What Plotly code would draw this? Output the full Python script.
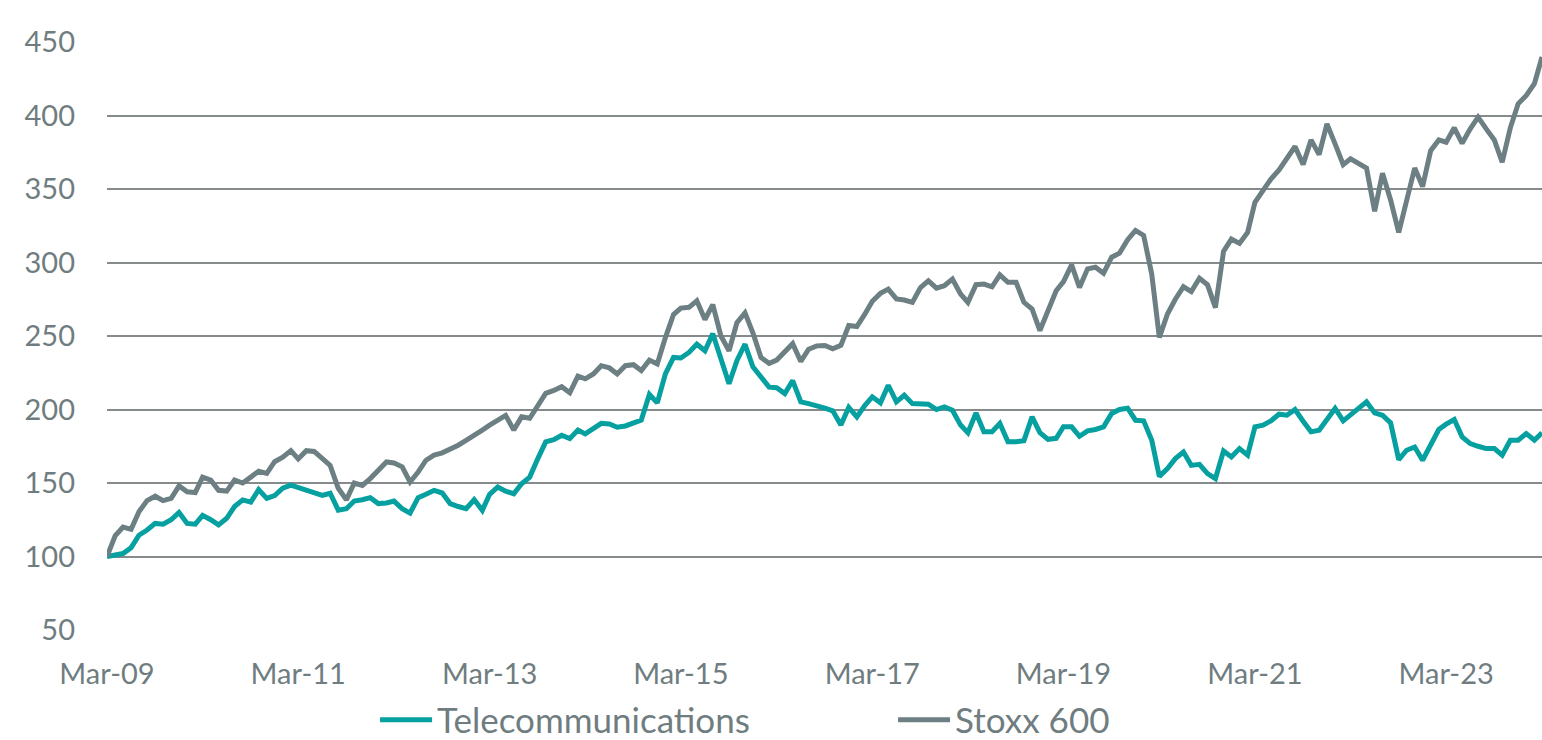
import pandas as pd
import plotly.graph_objects as go

# Monthly index levels, rebased to 100 at March 2009
months = pd.date_range("2009-03-01", periods=181, freq="MS")

telecommunications = [
    100, 101, 102, 106, 114.5, 118, 122.5, 122, 125, 130,
    122.5, 122, 128, 125, 121.5, 126, 134, 138.5, 137, 145.5,
    139.5, 141.5, 146.5, 148.5, 147, 145.5, 144, 141.5, 143, 131.5,
    132.5, 137.7, 138.6, 140, 136, 136.4, 137.7, 132.5, 129.5, 140,
    142.3, 145, 143.2, 136, 134, 132.5, 138.6, 131.4, 142.3, 147.3,
    144.5, 142.7, 149.5, 154, 166.6, 178, 179.5, 182.5, 180.2, 186,
    183.4, 187.2, 190.6, 190.1, 187.9, 188.8, 191, 192.8, 210.3, 204.5,
    224.2, 235.4, 235, 238.8, 244.4, 240, 251.6, 233.2, 217.5, 233.2,
    244.4, 229.1, 222, 215.2, 214.8, 210.8, 219.7, 205.2, 204, 202.9,
    201, 199.1, 189.4, 201.4, 195, 202.9, 208.6, 204.5, 216.5, 205.2,
    209.7, 204, 204, 203.6, 200, 201.8, 199.5, 189.4, 184.2, 197.7,
    184.9, 184.9, 190.5, 178.1, 178.1, 178.8, 195, 184.2, 179.7, 180.4,
    188.3, 188.2, 181.8, 185.5, 186.4, 188.2, 197.3, 200, 200.9, 192.7,
    192.3, 179.1, 154.5, 159.8, 166.6, 171.1, 162, 162.7, 156.4, 153,
    171.8, 167.7, 173.4, 168.9, 188.2, 189.3, 192.3, 196.8, 196.1, 200,
    192, 184.8, 185.9, 193.2, 200.7, 192.3, 196.1, 200.7, 205.2, 197.7,
    196.1, 190.9, 165.9, 172.3, 174.5, 165.5, 176.8, 186.4, 190, 193.2,
    181.4, 176.8, 175, 173.4, 173.4, 168.9, 179.1, 179.1, 183.6, 179.1,
    184.1,
]

stoxx_600 = [
    100, 114, 120, 118.5, 130.5, 138, 141, 138, 139.5, 148,
    144, 143.5, 154, 152, 145, 144.5, 152, 150, 154, 158,
    156.5, 164.5, 167.5, 172, 166.4, 172, 171.5, 167, 162, 146.4,
    138.5, 150, 148.4, 153, 158.6, 164.3, 163.6, 161, 150.7, 157.5,
    165.5, 169, 170.5, 172.7, 175.7, 179, 183, 186, 189.3, 192.7,
    196, 186, 195, 194, 203, 211, 213, 215.5, 211.4, 222.7,
    220.9, 224.2, 229.8, 228.3, 224.2, 229.8, 230.5, 226.5, 233.6, 231,
    248.9, 264.6, 269, 269.5, 274, 261.2, 271.3, 250, 240, 259,
    265.7, 252.2, 235.4, 231.4, 233.6, 238.8, 244.8, 232.7, 241, 243.3,
    243.6, 241.3, 243.6, 257.1, 256.4, 265, 273.6, 279, 281.9, 275.2,
    274.5, 272.9, 283, 287.6, 282.6, 284.2, 288.7, 278.6, 272.9, 284.9,
    285.3, 283.5, 291.6, 286.5, 286.5, 272.9, 268.4, 253.7, 268.4, 280.8,
    287, 298.4, 283, 295.7, 296.8, 292.7, 303.6, 306.4, 315.5, 321.8,
    318.4, 292, 249, 265, 275, 283.5, 280.2, 289.3, 284.8, 269.3,
    307.5, 315.9, 313, 320.5, 341, 349, 356.8, 363, 371, 378.9,
    366.6, 383.4, 373.4, 394.3, 380.7, 366.6, 370.5, 367.5, 364.3, 334.8,
    360.7, 342.5, 320.5, 342, 364.3, 351.6, 376.1, 383.4, 381.8, 391.6,
    381.1, 390.9, 398.9, 390.9, 383.4, 368.2, 391.6, 408, 413.6, 421.6,
    439.8,
]

y_ticks = [50, 100, 150, 200, 250, 300, 350, 400, 450]

TEAL = "#05a09f"
SLATE = "#6c7f83"
TEXT = "#6f7d80"
GRID = "#858a8b"
FONT = "Lato, Liberation Sans, sans-serif"

fig = go.Figure()
fig.add_trace(go.Scatter(
    x=months, y=telecommunications, mode="lines", name="Telecommunications",
    line=dict(color=TEAL, width=5),
))
fig.add_trace(go.Scatter(
    x=months, y=stoxx_600, mode="lines", name="Stoxx 600",
    line=dict(color=SLATE, width=5),
))

fig.update_layout(
    width=1542, height=740,
    margin=dict(l=107, r=0, t=42, b=110, autoexpand=False),
    paper_bgcolor="white", plot_bgcolor="white",
    font=dict(family=FONT, size=29, color=TEXT),
    showlegend=True,
    legend=dict(
        orientation="h", x=0.1868, xanchor="left", y=-0.153, yanchor="middle",
        font=dict(family=FONT, size=35, color=TEXT),
        entrywidth=451, itemwidth=52,
    ),
    xaxis=dict(
        range=[months[0], months[-1]],
        tickformat="%b-%y", dtick="M24", tick0=months[0],
        showgrid=False, zeroline=False, showline=False,
        ticks="", ticklabelstandoff=24, automargin=False,
    ),
    yaxis=dict(
        range=[50, 450], tickvals=y_ticks,
        showgrid=True, gridcolor=GRID, gridwidth=1.6,
        zeroline=False, showline=False, ticks="",
        ticklabelstandoff=31, automargin=False,
    ),
)

fig.write_html("out.html")
